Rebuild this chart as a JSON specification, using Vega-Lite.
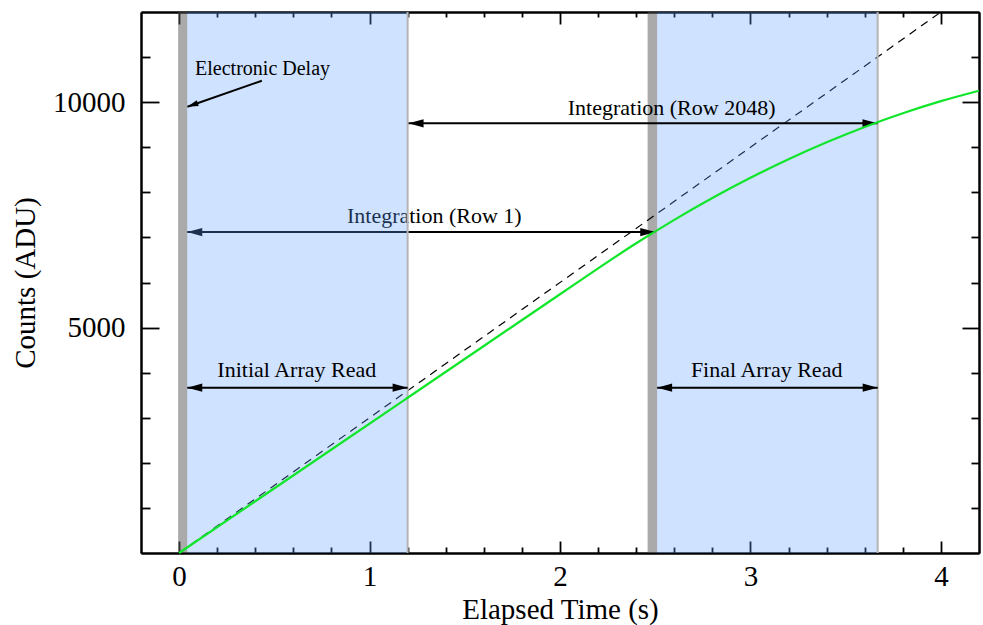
{
  "$schema": "https://vega.github.io/schema/vega-lite/v6.json",
  "width": 838,
  "height": 541,
  "autosize": "none",
  "padding": {"left": 141, "top": 12, "right": 4, "bottom": 72},
  "background": "white",
  "config": {
    "view": {"stroke": null},
    "axis": {
      "grid": false,
      "domainColor": "black",
      "domainWidth": 2,
      "tickColor": "black",
      "tickWidth": 1.8,
      "labelColor": "black",
      "labelFont": "Liberation Serif",
      "labelFontSize": 29,
      "titleFont": "Liberation Serif",
      "titleFontSize": 29,
      "titleFontWeight": "normal",
      "titleColor": "black"
    },
    "text": {"font": "Liberation Serif"}
  },
  "datasets": {
    "grayBands": [{"t1": -0.005, "t2": 0.043}, {"t1": 2.46, "t2": 2.51}],
    "blueBands": [{"t1": 0.043, "t2": 1.2}, {"t1": 2.51, "t2": 3.668}],
    "edges": [{"t": 1.2}, {"t": 3.668}],
    "ideal": [{"t": 0, "c": 0}, {"t": 4.0, "c": 12000}],
    "measured": [
      {"t": 0, "c": 0}, {"t": 0.4, "c": 1148}, {"t": 0.8, "c": 2296}, {"t": 1.2, "c": 3444},
      {"t": 1.6, "c": 4592}, {"t": 2.0, "c": 5740}, {"t": 2.2, "c": 6314}, {"t": 2.4, "c": 6870},
      {"t": 2.6, "c": 7390}, {"t": 2.8, "c": 7874}, {"t": 3.0, "c": 8322}, {"t": 3.2, "c": 8734},
      {"t": 3.4, "c": 9110}, {"t": 3.6, "c": 9450}, {"t": 3.8, "c": 9754}, {"t": 4.0, "c": 10022},
      {"t": 4.2, "c": 10254}
    ],
    "row1Arrow": [{"t1": 0.043, "t2": 2.5, "c": 7120}],
    "row1HeadL": [{"t": 0.043, "c": 7120}],
    "row1HeadR": [{"t": 2.5, "c": 7120}],
    "row1Text": [{"t": 1.34, "c": 7313, "label": "Integration (Row 1)"}],
    "row2048Arrow": [{"t1": 1.205, "t2": 3.667, "c": 9531}],
    "readArrows": [{"t1": 0.043, "t2": 1.2, "c": 3667}, {"t1": 2.51, "t2": 3.668, "c": 3667}],
    "headsL": [{"t": 1.205, "c": 9531}, {"t": 0.043, "c": 3667}, {"t": 2.51, "c": 3667}],
    "headsR": [{"t": 3.667, "c": 9531}, {"t": 1.2, "c": 3667}, {"t": 3.668, "c": 3667}],
    "labels": [
      {"t": 2.586, "c": 9715, "label": "Integration (Row 2048)"},
      {"t": 0.618, "c": 3910, "label": "Initial Array Read"},
      {"t": 3.085, "c": 3910, "label": "Final Array Read"}
    ],
    "delayArrow": [{"t1": 0.4347, "c1": 10476, "t2": 0.0436, "c2": 9899}],
    "delayHead": [{"t": 0.0436, "c": 9899}],
    "delayText": [{"t": 0.084, "c": 10602, "label": "Electronic Delay"}]
  },
  "resolve": {"axis": {"x": "independent", "y": "independent"}},
  "layer": [
    {
      "data": {"name": "grayBands"},
      "mark": {"type": "rect", "fill": "#555555", "opacity": 0.5},
      "encoding": {
        "x": {"field": "t1", "type": "quantitative", "scale": {"domain": [-0.2, 4.2], "nice": false, "zero": false}, "axis": null},
        "x2": {"field": "t2"}
      }
    },
    {
      "data": {"name": "ideal"},
      "mark": {"type": "line", "color": "black", "strokeWidth": 1.2, "strokeDash": [8, 6]},
      "encoding": {
        "x": {"field": "t", "type": "quantitative", "scale": {"domain": [-0.2, 4.2], "nice": false, "zero": false},
              "axis": {"orient": "bottom", "values": [0.2, 0.4, 0.6, 0.8, 1.2, 1.4, 1.6, 1.8, 2.2, 2.4, 2.6, 2.8, 3.2, 3.4, 3.6, 3.8], "labels": false, "tickSize": -6, "title": null}},
        "y": {"field": "c", "type": "quantitative", "scale": {"domain": [0, 12000], "nice": false, "zero": false},
              "axis": {"orient": "left", "values": [1000, 2000, 3000, 4000, 6000, 7000, 8000, 9000, 11000], "labels": false, "tickSize": -9, "title": null}}
      }
    },
    {
      "data": {"name": "row1Arrow"},
      "mark": {"type": "rule", "color": "black", "strokeWidth": 2},
      "encoding": {
        "x": {"field": "t1", "type": "quantitative", "scale": {"domain": [-0.2, 4.2], "nice": false, "zero": false},
              "axis": {"orient": "top", "values": [0, 1, 2, 3, 4], "labels": false, "tickSize": -12, "title": null}},
        "x2": {"field": "t2"},
        "y": {"field": "c", "type": "quantitative", "scale": {"domain": [0, 12000], "nice": false, "zero": false},
              "axis": {"orient": "right", "values": [5000, 10000], "labels": false, "tickSize": -17, "title": null}}
      }
    },
    {
      "data": {"name": "row1HeadL"},
      "mark": {"type": "point", "shape": "M0,0L2,-0.55L2,0.55Z", "filled": true, "size": 225, "color": "black", "opacity": 1},
      "encoding": {
        "x": {"field": "t", "type": "quantitative", "axis": null},
        "y": {"field": "c", "type": "quantitative", "axis": null}
      }
    },
    {
      "data": {"name": "row1HeadR"},
      "mark": {"type": "point", "shape": "M0,0L-2,-0.55L-2,0.55Z", "filled": true, "size": 225, "color": "black", "opacity": 1},
      "encoding": {
        "x": {"field": "t", "type": "quantitative", "axis": null},
        "y": {"field": "c", "type": "quantitative", "axis": null}
      }
    },
    {
      "data": {"name": "row1Text"},
      "mark": {"type": "text", "font": "Liberation Serif", "fontSize": 22, "align": "center", "baseline": "alphabetic", "color": "black"},
      "encoding": {
        "x": {"field": "t", "type": "quantitative", "axis": null},
        "y": {"field": "c", "type": "quantitative", "axis": null},
        "text": {"field": "label"}
      }
    },
    {
      "data": {"name": "blueBands"},
      "mark": {"type": "rect", "fill": "#5f9eff", "opacity": 0.3},
      "encoding": {
        "x": {"field": "t1", "type": "quantitative", "axis": null},
        "x2": {"field": "t2"}
      }
    },
    {
      "data": {"name": "edges"},
      "mark": {"type": "rule", "color": "#b5b5b5", "strokeWidth": 2},
      "encoding": {
        "x": {"field": "t", "type": "quantitative", "axis": null}
      }
    },
    {
      "data": {"name": "row2048Arrow"},
      "mark": {"type": "rule", "color": "black", "strokeWidth": 2},
      "encoding": {
        "x": {"field": "t1", "type": "quantitative", "scale": {"domain": [-0.2, 4.2], "nice": false, "zero": false},
              "axis": {"orient": "top", "values": [0.2, 0.4, 0.6, 0.8, 1.2, 1.4, 1.6, 1.8, 2.2, 2.4, 2.6, 2.8, 3.2, 3.4, 3.6, 3.8], "labels": false, "tickSize": -5, "title": null}},
        "x2": {"field": "t2"},
        "y": {"field": "c", "type": "quantitative", "scale": {"domain": [0, 12000], "nice": false, "zero": false},
              "axis": {"orient": "right", "values": [1000, 2000, 3000, 4000, 6000, 7000, 8000, 9000, 11000], "labels": false, "tickSize": -8, "title": null}}
      }
    },
    {
      "data": {"name": "readArrows"},
      "mark": {"type": "rule", "color": "black", "strokeWidth": 2},
      "encoding": {
        "x": {"field": "t1", "type": "quantitative", "axis": null},
        "x2": {"field": "t2"},
        "y": {"field": "c", "type": "quantitative", "axis": null}
      }
    },
    {
      "data": {"name": "headsL"},
      "mark": {"type": "point", "shape": "M0,0L2,-0.55L2,0.55Z", "filled": true, "size": 225, "color": "black", "opacity": 1},
      "encoding": {
        "x": {"field": "t", "type": "quantitative", "axis": null},
        "y": {"field": "c", "type": "quantitative", "axis": null}
      }
    },
    {
      "data": {"name": "headsR"},
      "mark": {"type": "point", "shape": "M0,0L-2,-0.55L-2,0.55Z", "filled": true, "size": 225, "color": "black", "opacity": 1},
      "encoding": {
        "x": {"field": "t", "type": "quantitative", "axis": null},
        "y": {"field": "c", "type": "quantitative", "axis": null}
      }
    },
    {
      "data": {"name": "measured"},
      "mark": {"type": "line", "color": "#11e62b", "strokeWidth": 2.2, "interpolate": "monotone"},
      "encoding": {
        "x": {"field": "t", "type": "quantitative", "scale": {"domain": [-0.2, 4.2], "nice": false, "zero": false},
              "axis": {"orient": "bottom", "values": [0, 1, 2, 3, 4], "format": "d", "tickSize": -12, "labelPadding": 21, "title": "Elapsed Time (s)", "titlePadding": 4}},
        "y": {"field": "c", "type": "quantitative", "scale": {"domain": [0, 12000], "nice": false, "zero": false},
              "axis": {"orient": "left", "values": [5000, 10000], "format": "d", "tickSize": -18, "labelPadding": 34, "title": "Counts (ADU)", "titlePadding": 12}}
      }
    },
    {
      "data": {"name": "labels"},
      "mark": {"type": "text", "font": "Liberation Serif", "fontSize": 22, "align": "center", "baseline": "alphabetic", "color": "black"},
      "encoding": {
        "x": {"field": "t", "type": "quantitative", "axis": null},
        "y": {"field": "c", "type": "quantitative", "axis": null},
        "text": {"field": "label"}
      }
    },
    {
      "data": {"name": "delayArrow"},
      "mark": {"type": "rule", "color": "black", "strokeWidth": 2},
      "encoding": {
        "x": {"field": "t1", "type": "quantitative", "axis": null},
        "y": {"field": "c1", "type": "quantitative", "axis": null},
        "x2": {"field": "t2"},
        "y2": {"field": "c2"}
      }
    },
    {
      "data": {"name": "delayHead"},
      "mark": {"type": "point", "shape": "M0,0L2,-0.55L2,0.55Z", "filled": true, "size": 121, "angle": 340.7, "color": "black", "opacity": 1},
      "encoding": {
        "x": {"field": "t", "type": "quantitative", "axis": null},
        "y": {"field": "c", "type": "quantitative", "axis": null}
      }
    },
    {
      "data": {"name": "delayText"},
      "mark": {"type": "text", "font": "Liberation Serif", "fontSize": 20, "align": "left", "baseline": "alphabetic", "color": "black"},
      "encoding": {
        "x": {"field": "t", "type": "quantitative", "axis": null},
        "y": {"field": "c", "type": "quantitative", "axis": null},
        "text": {"field": "label"}
      }
    }
  ]
}
